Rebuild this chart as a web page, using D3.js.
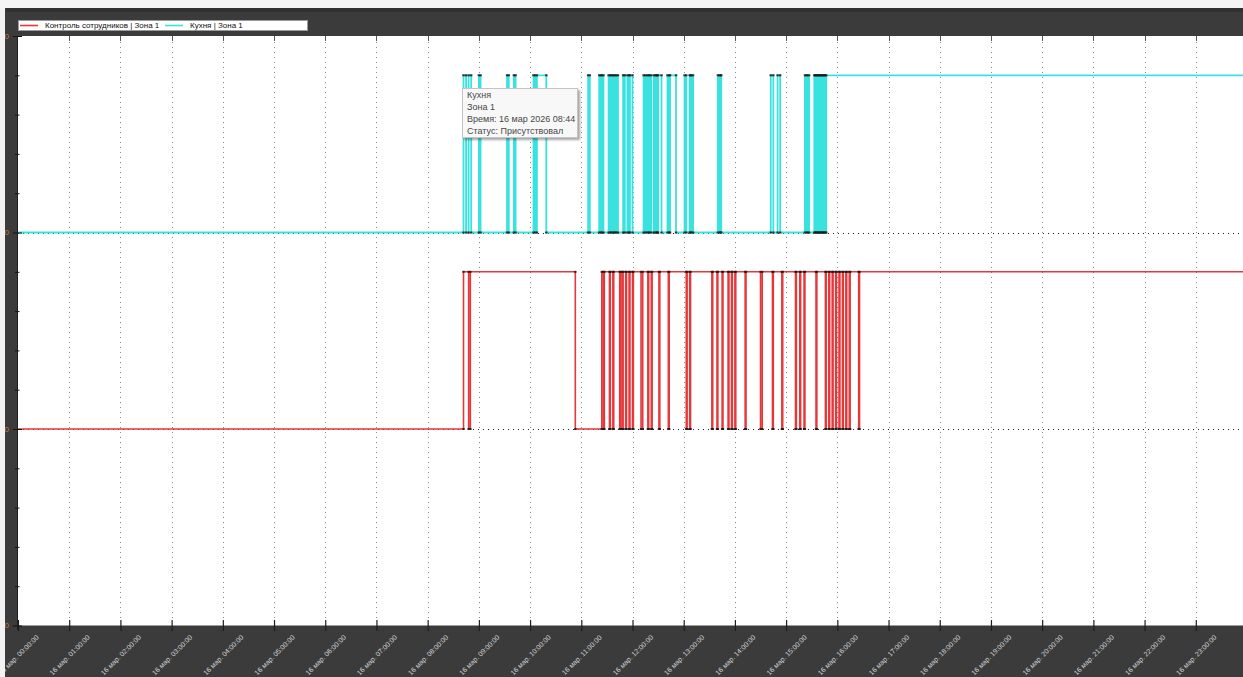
<!DOCTYPE html>
<html>
<head>
<meta charset="utf-8">
<script src="https://cdn.jsdelivr.net/npm/d3@7"></script>
<style>
  html, body { margin: 0; padding: 0; background: #ffffff; overflow: hidden; }
  svg { display: block; }
</style>
</head>
<body>
<svg id="chart" width="1243" height="677"></svg>
<script>
// ---- data -------------------------------------------------------------
const DAY = "2026-03-16";
const seriesNames = ["Контроль сотрудников | Зона 1", "Кухня | Зона 1"];
const seriesColors = ["#e4383a", "#3ae2df"];
const seriesWidths = [1.6, 1.8];
const seriesBase = [1, 2];          // baseline level of each series on the y axis
const pulseHeight = 0.8;            // level added while the status is "present"
const yTickValues = [0, 1, 2, 3];

// Контроль сотрудников: status changes (1 = присутствовал, 0 = отсутствовал)
const staffTimes = [
  "08:42", "08:48", "08:50", "10:53", "11:24",
  "11:26", "11:27", "11:33", "11:34", "11:37", "11:38", "11:45", "11:46",
  "11:48", "11:49", "11:52", "11:53", "11:56", "11:57", "12:00", "12:01",
  "12:10", "12:12", "12:18", "12:19", "12:22", "12:23", "12:31", "12:32",
  "12:42", "12:43", "13:03", "13:04", "13:07", "13:08",
  "13:33", "13:34", "13:39", "13:40", "13:45", "13:46", "13:52", "13:53",
  "13:56", "13:57", "14:00", "14:01", "14:12", "14:13", "14:30", "14:32",
  "14:44", "14:45", "14:55", "14:56", "15:11", "15:12", "15:16", "15:17",
  "15:21", "15:22", "15:35", "15:36", "15:46", "15:47", "15:50", "15:51",
  "15:54", "15:55", "15:58", "15:59", "16:02", "16:03", "16:06", "16:07",
  "16:10", "16:11", "16:14", "16:15", "16:25", "16:26"
];
const staffStates = [
  1, 0, 1, 0, 1,
  0, 1, 0, 1, 0, 1, 0, 1,
  0, 1, 0, 1, 0, 1, 0, 1,
  0, 1, 0, 1, 0, 1, 0, 1,
  0, 1, 0, 1, 0, 1,
  0, 1, 0, 1, 0, 1, 0, 1,
  0, 1, 0, 1, 0, 1, 0, 1,
  0, 1, 0, 1, 0, 1, 0, 1,
  0, 1, 0, 1, 0, 1, 0, 1,
  0, 1, 0, 1, 0, 1, 0, 1,
  0, 1, 0, 1, 0, 1
];

// Кухня: status changes
const kitchenTimes = [
  "08:42", "08:45", "08:48", "08:51", "09:00", "09:02", "09:33", "09:35",
  "09:41", "09:43", "10:04", "10:06", "10:08", "10:19",
  "11:08", "11:10", "11:21", "11:23", "11:24", "11:26",
  "11:32", "11:34", "11:35", "11:37", "11:38", "11:40", "11:41", "11:43",
  "11:49", "11:51", "11:54", "11:56", "11:57", "12:00",
  "12:13", "12:15", "12:17", "12:19", "12:20", "12:22",
  "12:25", "12:27", "12:28", "12:29", "12:30", "12:34",
  "12:41", "12:43", "12:44", "12:51", "13:01", "13:03",
  "13:07", "13:08", "13:09", "13:11", "13:40", "13:42", "13:43", "13:44",
  "14:42", "14:45", "14:50", "14:53",
  "15:22", "15:24", "15:25", "15:27",
  "15:33", "15:34", "15:35", "15:36", "15:37", "15:38", "15:39", "15:40",
  "15:41", "15:42", "15:43", "15:44", "15:45", "15:46", "15:47"
];
const kitchenStates = [
  1, 0, 1, 0, 1, 0, 1, 0,
  1, 0, 1, 0, 1, 0,
  1, 0, 1, 0, 1, 0,
  1, 0, 1, 0, 1, 0, 1, 0,
  1, 0, 1, 0, 1, 0,
  1, 0, 1, 0, 1, 0,
  1, 0, 1, 0, 1, 0,
  1, 0, 1, 0, 1, 0,
  1, 0, 1, 0, 1, 0, 1, 0,
  1, 0, 1, 0,
  1, 0, 1, 0,
  1, 0, 1, 0, 1, 0, 1, 0,
  1, 0, 1, 0, 1, 0, 1
];

// point under the cursor (kitchen series)
const hoverSeries = 1;
const hoverTime = "08:44";
const statusText = ["Отсутствовал", "Присутствовал"];

// ---- setup ------------------------------------------------------------
const W = 1243, H = 677;
const plot = { left: 18, top: 36, right: 1243, bottom: 625.5 };

const parse = d3.timeParse("%Y-%m-%d %H:%M");
const dayStart = parse(DAY + " 00:00");
const dayEnd = d3.timeDay.offset(dayStart, 1);

const ru = d3.timeFormatLocale({
  dateTime: "%A, %e %B %Y г. %X", date: "%d.%m.%Y", time: "%H:%M:%S",
  periods: ["AM", "PM"],
  days: ["воскресенье","понедельник","вторник","среда","четверг","пятница","суббота"],
  shortDays: ["вс","пн","вт","ср","чт","пт","сб"],
  months: ["января","февраля","марта","апреля","мая","июня","июля","августа","сентября","октября","ноября","декабря"],
  shortMonths: ["янв","фев","мар","апр","май","июн","июл","авг","сен","окт","ноя","дек"]
});
const tickFormat = ru.format("%-d %b. %H:%M:%S");
const tipFormat = ru.format("%-d %b %Y %H:%M");

const x = d3.scaleTime().domain([dayStart, dayEnd]).range([18, 1247]);
const y = d3.scaleLinear().domain([0, 3]).range([625.5, 36]);

const series = [
  { times: staffTimes, states: staffStates },
  { times: kitchenTimes, states: kitchenStates }
].map((s, i) => {
  const events = s.times.map((t, k) => ({ date: parse(DAY + " " + t), state: s.states[k] }));
  const last = events.length ? events[events.length - 1].state : 0;
  const pts = [{ date: dayStart, state: 0 }, ...events, { date: dayEnd, state: last }];
  return { name: seriesNames[i], color: seriesColors[i], width: seriesWidths[i], base: seriesBase[i], events, pts };
});

const svg = d3.select("#chart");

// window frame
svg.append("rect").attr("width", W).attr("height", H).attr("fill", "#3b3b3b");
svg.append("rect").attr("x", 0).attr("y", 0).attr("width", W).attr("height", 8).attr("fill", "#f4f4f4");
svg.append("rect").attr("x", 6).attr("y", 8).attr("width", W).attr("height", 4).attr("fill", "#313131");

// plot area
svg.append("rect")
  .attr("x", plot.left).attr("y", plot.top)
  .attr("width", plot.right - plot.left).attr("height", plot.bottom - plot.top)
  .attr("fill", "#ffffff");

const defs = svg.append("defs");
defs.append("clipPath").attr("id", "plotClip")
  .append("rect")
  .attr("x", plot.left).attr("y", plot.top)
  .attr("width", plot.right - plot.left).attr("height", plot.bottom - plot.top);
const shadow = defs.append("filter").attr("id", "tipShadow")
  .attr("x", "-10%").attr("y", "-10%").attr("width", "130%").attr("height", "140%");
shadow.append("feDropShadow").attr("dx", 2).attr("dy", 2).attr("stdDeviation", 1.2)
  .attr("flood-color", "#000").attr("flood-opacity", 0.35);

const hours = d3.timeHour.range(dayStart, dayEnd);

// grid
const grid = svg.append("g").attr("clip-path", "url(#plotClip)");
grid.selectAll("line.vgrid").data(hours.slice(1)).join("line")
  .attr("class", "vgrid")
  .attr("x1", d => Math.round(x(d)) + 0.5).attr("x2", d => Math.round(x(d)) + 0.5)
  .attr("y1", plot.top + 6).attr("y2", plot.bottom - 6)
  .attr("stroke", "#8a8a8a").attr("stroke-width", 1)
  .attr("stroke-dasharray", "1,4");
grid.selectAll("line.hgrid").data(seriesBase).join("line")
  .attr("class", "hgrid")
  .attr("x1", plot.left).attr("x2", plot.right)
  .attr("y1", d => Math.round(y(d)) + 0.5).attr("y2", d => Math.round(y(d)) + 0.5)
  .attr("stroke", "#222").attr("stroke-width", 1)
  .attr("stroke-dasharray", "1,4");

// top tick marks
grid.selectAll("line.ttick").data(hours.slice(1)).join("line")
  .attr("class", "ttick")
  .attr("x1", d => Math.round(x(d)) + 0.5).attr("x2", d => Math.round(x(d)) + 0.5)
  .attr("y1", plot.top).attr("y2", plot.top + 5)
  .attr("stroke", "#555").attr("stroke-width", 1);

// series
const lineGen = d3.line()
  .x(d => x(d.date))
  .curve(d3.curveStepAfter);

const marks = svg.append("g").attr("clip-path", "url(#plotClip)");
series.forEach(s => {
  marks.append("path")
    .datum(s.pts)
    .attr("fill", "none")
    .attr("stroke", s.color)
    .attr("stroke-width", s.width)
    .attr("d", lineGen.y(d => y(s.base + pulseHeight * d.state)));
});
series.forEach(s => {
  const pts = s.events.flatMap(e => [
    { date: e.date, v: s.base }, { date: e.date, v: s.base + pulseHeight }
  ]);
  marks.append("g").selectAll("rect").data(pts).join("rect")
    .attr("x", d => x(d.date) - 1.2).attr("y", d => y(d.v) - 1)
    .attr("width", 2.4).attr("height", 2)
    .attr("fill", "#1a1a1a").attr("fill-opacity", 0.85);
});

// x axis
const xAxis = d3.axisBottom(x).tickValues(hours).tickSize(11).tickFormat(tickFormat);
const gx = svg.append("g").attr("transform", `translate(0,${620})`).call(xAxis);
gx.select(".domain").remove();
gx.selectAll(".tick line").attr("stroke", "#1e1e1e").attr("stroke-width", 1.2);
gx.selectAll(".tick text")
  .attr("x", 0).attr("y", 0).attr("dy", "0.35em")
  .attr("text-anchor", "middle")
  .attr("transform", "translate(0,35) rotate(-45)")
  .attr("fill", "#d2d6da")
  .attr("font-family", "Liberation Sans, Arial, sans-serif")
  .attr("font-size", 7);

// y axis: minor and major ticks
const minorValues = d3.range(0, 3.0001, 0.2).filter(v => Math.abs(v - Math.round(v)) > 1e-6);
const gyMinor = svg.append("g").attr("transform", "translate(19.5,0)")
  .call(d3.axisLeft(y).tickValues(minorValues).tickSize(4.5).tickFormat(""));
gyMinor.select(".domain").remove();
gyMinor.selectAll(".tick line").attr("stroke", "#111");
const gyMajor = svg.append("g").attr("transform", "translate(22,0)")
  .call(d3.axisLeft(y).tickValues(yTickValues).tickSize(9).tickFormat(""));
gyMajor.select(".domain").remove();
gyMajor.selectAll(".tick line").attr("stroke", "#111");
svg.append("line")
  .attr("x1", plot.left - 0.5).attr("x2", plot.left - 0.5)
  .attr("y1", plot.top).attr("y2", plot.bottom + 4)
  .attr("stroke", "#1e1e1e");

svg.append("g").selectAll("text").data(yTickValues).join("text")
  .attr("x", 9).attr("y", d => y(d)).attr("dy", "0.35em")
  .attr("text-anchor", "end")
  .attr("fill", "#c8803f")
  .attr("font-family", "Liberation Sans, Arial, sans-serif")
  .attr("font-size", 8)
  .text(d3.format(".1f"));
// light window edge on the far left
svg.append("rect").attr("x", 0).attr("y", 8).attr("width", 5).attr("height", H - 8).attr("fill", "#f2f2f2");

// legend
const legend = svg.append("g");
legend.append("rect")
  .attr("x", 18.5).attr("y", 20.5).attr("width", 289).attr("height", 10)
  .attr("fill", "#ffffff").attr("stroke", "#9a9a9a");
const legendX = [20, 165];
series.forEach((s, i) => {
  legend.append("line")
    .attr("x1", legendX[i]).attr("x2", legendX[i] + 18)
    .attr("y1", 25.5).attr("y2", 25.5)
    .attr("stroke", s.color).attr("stroke-width", 1.6);
  legend.append("text")
    .attr("x", legendX[i] + 25).attr("y", 28.4)
    .attr("fill", "#111")
    .attr("font-family", "Liberation Sans, Arial, sans-serif")
    .attr("font-size", 8)
    .text(s.name);
});

// tooltip for the hovered kitchen point
const hs = series[hoverSeries];
const hDate = parse(DAY + " " + hoverTime);
const idx = d3.bisectRight(hs.events.map(e => +e.date), +hDate) - 1;
const hState = idx >= 0 ? hs.events[idx].state : 0;
const [zoneTitle, zoneName] = hs.name.split(" | ");
const tipLines = [zoneTitle, zoneName, "Время: " + tipFormat(hDate), "Статус: " + statusText[hState]];
const tipX = Math.round(x(hDate)) - 2.5;
const tipY = Math.round(y(hs.base + pulseHeight * hState)) + 13.5;
const tip = svg.append("g").attr("transform", `translate(${tipX},${tipY})`);
tip.append("rect")
  .attr("width", 115).attr("height", 49)
  .attr("fill", "#f8f8f8").attr("stroke", "#c4c4c4")
  .attr("filter", "url(#tipShadow)");
tip.selectAll("text").data(tipLines).join("text")
  .attr("x", 4.5).attr("y", (d, i) => 9.6 + i * 12)
  .attr("fill", "#474747")
  .attr("font-family", "Liberation Sans, Arial, sans-serif")
  .attr("font-size", 9)
  .text(d => d);
</script>
</body>
</html>
